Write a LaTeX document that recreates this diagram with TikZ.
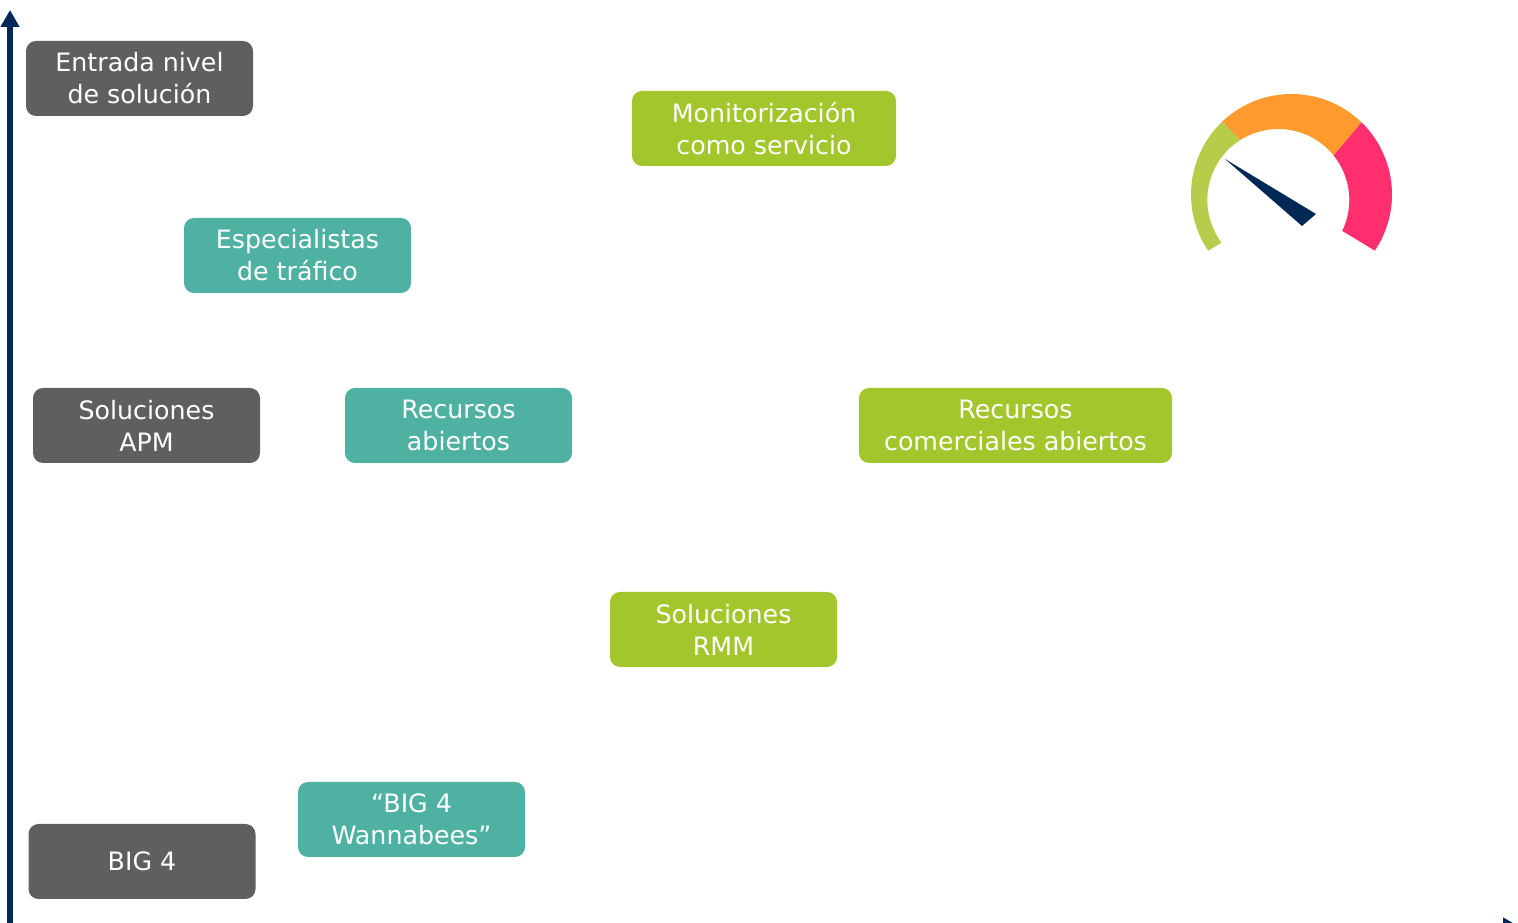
\documentclass[tikz,border=0pt]{standalone}
\usepackage{fontspec}
\setmainfont{DejaVu Sans}
\usetikzlibrary{arrows.meta}
\definecolor{navyaxis}{HTML}{002856}
\definecolor{greybox}{HTML}{5F5F5F}
\definecolor{tealbox}{HTML}{4FB1A1}
\definecolor{greenbox}{HTML}{A2C62B}
\definecolor{gaugegreen}{HTML}{B5CD4B}
\definecolor{gaugeorange}{HTML}{FF9A2E}
\definecolor{gaugepink}{HTML}{FF2E6E}
\tikzset{
    box/.style = {rectangle, rounded corners = 10pt, minimum height = 75pt, minimum width = 227pt,
        inner sep = 0pt, text = white, align = center,
        font = \fontsize{25.3}{32}\selectfont},
    greyBox/.style = {box, fill = greybox},
    tealBox/.style = {box, fill = tealbox},
    greenBox/.style = {box, fill = greenbox},
    axis/.style = {draw = navyaxis, line width = 6pt, -{Triangle[length = 17pt, width = 18pt]}}
}
\begin{document}
\begin{tikzpicture}[x = 1pt, y = 1pt]
    \useasboundingbox (0,0) rectangle (1518,923);
    % axes
    \coordinate (origin) at (10,-4);
    \coordinate (yEnd) at (10,913);
    \coordinate (xEnd) at (1520,-4);
    \draw[axis] (origin) -- (yEnd);
    \draw[axis] (origin) -- (xEnd);
    % boxes
    \node[greyBox] (entrada) at (139.5,844.5) {Entrada nivel\\de solución};
    \node[greyBox] (apm) at (146.5,497.5) {Soluciones\\APM};
    \node[greyBox] (bigFour) at (142,61.5) {BIG 4};
    \node[tealBox] (trafico) at (297.5,667.5) {Especialistas\\de tráfico};
    \node[tealBox] (abiertos) at (458.5,497.5) {Recursos\\abiertos};
    \node[tealBox] (wannabees) at (411.5,103.5) {“BIG 4\\Wannabees”};
    \node[greenBox, minimum width = 264pt] (monitor) at (764,794.5) {Monitorización\\como servicio};
    \node[greenBox, minimum width = 313pt] (comerciales) at (1015.5,497.5) {Recursos\\comerciales abiertos};
    \node[greenBox] (rmm) at (723.5,293.5) {Soluciones\\RMM};
    % gauge
    \coordinate (gaugeOuter) at (1291.5,728.5);
    \coordinate (gaugeInner) at (1278.3,723);
    \fill[gaugegreen] ([shift={(gaugeOuter)}]214:100.5) arc (214:133.4:100.5)
        -- ([shift={(gaugeInner)}]122.6:71) arc (122.6:216.9:71) -- cycle;
    \fill[gaugeorange] ([shift={(gaugeOuter)}]133.4:100.5) arc (133.4:45.8:100.5)
        -- ([shift={(gaugeInner)}]38.8:71) arc (38.8:122.6:71) -- cycle;
    \fill[gaugepink] ([shift={(gaugeOuter)}]45.8:100.5) arc (45.8:-34:100.5)
        -- ([shift={(gaugeInner)}]-25.8:71) arc (-25.8:38.8:71) -- cycle;
    \fill[navyaxis] (1225,764) -- (1316,709) -- (1302,697) -- cycle;
\end{tikzpicture}
\end{document}
